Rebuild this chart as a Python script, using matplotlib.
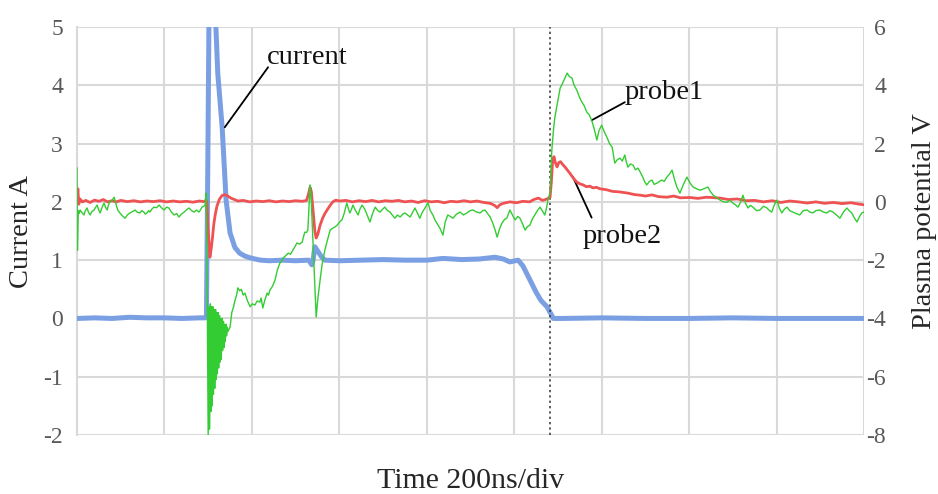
import numpy as np
import matplotlib
matplotlib.use("Agg")
import matplotlib.pyplot as plt

plt.rcParams['font.family'] = ['Liberation Serif', 'DejaVu Serif']
plt.rcParams['axes.unicode_minus'] = False

# time in ns (200 ns per division, 9 divisions)
div_ns = 200
n_div = 9

# current trace (A)
current_trace = [
    (0, 0.0), (40, 0.01), (80, 0.0), (120, 0.02), (160, 0.01), (200, 0.01),
    (240, 0.0), (280, 0.01), (293, 0.01), (296, 0.03), (299, 2.5), (302, 5.3),
    (316, 5.3), (322, 4.2), (332, 3.28), (341, 2.03), (350, 1.47), (361, 1.22),
    (372, 1.12), (384, 1.07), (396, 1.04), (407, 1.02), (420, 1.0), (440, 0.99),
    (470, 1.0), (500, 0.99), (530, 1.0), (537, 0.92), (540, 1.0), (544, 1.23),
    (551, 1.15), (560, 1.05), (567, 1.0), (600, 0.99), (650, 1.0), (700, 1.01),
    (750, 1.0), (800, 1.0), (837, 1.03), (880, 1.01), (920, 1.02), (956, 1.05),
    (975, 1.02), (990, 0.97), (1009, 1.0), (1020, 0.9), (1036, 0.66),
    (1050, 0.45), (1061, 0.31), (1075, 0.2), (1086, 0.05), (1089, 0.0),
    (1110, 0.0), (1200, 0.01), (1300, 0.0), (1400, 0.0), (1500, 0.01),
    (1600, 0.0), (1700, 0.0), (1800, 0.0),
]

# probe2 potential (V)
probe2_trace = [
    (0, 0.03), (2, 0.45), (4, -0.08), (7, 0.1), (12, 0.0), (20, 0.05), (30, -0.02),
    (40, 0.06), (50, 0.02), (60, 0.08), (70, 0.0), (80, 0.04), (90, 0.0), (100, 0.05),
    (115, 0.01), (130, 0.04), (145, 0.0), (160, 0.03), (175, 0.01), (190, 0.04),
    (205, 0.0), (220, 0.03), (235, 0.0), (250, 0.02), (265, -0.01), (280, 0.03),
    (290, 0.01), (295, 0.05), (297, 0.0), (300, -1.0), (304, -1.9), (307, -1.6),
    (310, -1.2), (313, -0.75), (316, -0.45), (320, -0.15), (326, 0.1), (332, 0.22),
    (338, 0.25), (345, 0.2), (352, 0.13), (360, 0.08), (368, 0.03), (380, 0.05),
    (395, 0.0), (410, 0.03), (425, 0.01), (440, 0.04), (455, 0.0), (470, 0.03),
    (485, 0.01), (500, 0.04), (515, 0.02), (525, 0.05), (530, 0.3), (533, 0.5),
    (536, 0.35), (540, -0.3), (544, -1.0), (547, -1.24), (551, -1.1), (556, -0.8),
    (562, -0.55), (567, -0.4), (572, -0.28), (579, -0.12), (585, 0.0), (592, 0.06),
    (600, 0.03), (615, 0.05), (630, 0.0), (645, 0.04), (660, 0.01), (675, 0.05),
    (690, 0.0), (705, 0.04), (720, 0.02), (735, 0.05), (750, 0.0), (765, 0.03),
    (780, -0.02), (795, 0.04), (810, 0.0), (825, 0.02), (840, -0.03), (855, 0.02),
    (870, 0.0), (885, 0.04), (900, 0.0), (915, 0.03), (930, -0.02), (945, -0.05),
    (955, -0.12), (961, -0.2), (967, -0.1), (975, -0.05), (990, 0.0), (1005, -0.03),
    (1020, 0.02), (1035, 0.0), (1045, 0.08), (1055, 0.13), (1065, 0.05), (1075, 0.1),
    (1082, 0.16), (1085, 0.7), (1088, 1.45), (1091, 1.55), (1094, 1.35), (1098, 1.2),
    (1102, 1.35), (1106, 1.38), (1111, 1.28), (1116, 1.2), (1121, 1.1), (1127, 0.99),
    (1135, 0.82), (1143, 0.68), (1150, 0.62), (1158, 0.58), (1165, 0.52), (1173, 0.54),
    (1180, 0.48), (1188, 0.5), (1196, 0.45), (1210, 0.42), (1225, 0.36), (1242, 0.34),
    (1260, 0.3), (1275, 0.25), (1288, 0.23), (1300, 0.2), (1315, 0.24), (1330, 0.18),
    (1349, 0.16), (1365, 0.2), (1380, 0.14), (1402, 0.15), (1420, 0.12), (1440, 0.16),
    (1471, 0.13), (1490, 0.08), (1510, 0.1), (1530, 0.04), (1550, 0.05), (1570, 0.0),
    (1590, 0.04), (1610, -0.02), (1630, 0.03), (1650, 0.0), (1670, -0.04), (1690, 0.0),
    (1710, -0.05), (1730, -0.02), (1750, -0.06), (1770, -0.03), (1790, -0.08),
    (1800, -0.1),
]

# probe1 potential (V)
probe1_trace = [
    (0, 1.16), (1, -1.66), (3, -0.3), (5, -0.4), (7, -0.28), (11, -0.36), (16, -0.45),
    (19, -0.3), (23, -0.21), (26, -0.35), (30, -0.45), (34, -0.33), (39, -0.28),
    (42, -0.2), (46, -0.11), (49, -0.25), (53, -0.38), (57, -0.2), (62, -0.04),
    (65, -0.18), (69, -0.28), (72, -0.1), (75, 0.0), (80, 0.05), (85, 0.16), (88, 0.0),
    (91, -0.18), (94, -0.3), (98, -0.38), (104, -0.48), (110, -0.56), (115, -0.45),
    (121, -0.38), (127, -0.33), (133, -0.28), (138, -0.36), (144, -0.38), (148, -0.3),
    (153, -0.35), (156, -0.42), (160, -0.38), (164, -0.3), (167, -0.35), (171, -0.25),
    (176, -0.18), (182, -0.2), (188, -0.11), (193, -0.2), (199, -0.28), (205, -0.18),
    (210, -0.21), (216, -0.35), (222, -0.45), (228, -0.4), (233, -0.52), (239, -0.42),
    (245, -0.35), (250, -0.28), (256, -0.21), (262, -0.3), (268, -0.35), (273, -0.28),
    (279, -0.35), (283, -0.25), (286, -0.18), (290, -0.15), (293, -0.11), (295, 0.3),
    (297, -1.5),
    (300, -8.0), (302, -3.6), (303, -7.8), (305, -3.5), (306, -7.2), (308, -3.6),
    (309, -7.0), (311, -3.6), (312, -6.6), (314, -3.7), (315, -6.4), (317, -3.7),
    (318, -6.1), (320, -3.8), (321, -5.9), (323, -3.8), (324, -5.7), (326, -3.9),
    (327, -5.5), (329, -4.0), (330, -5.4), (332, -4.0), (333, -5.1), (335, -4.1),
    (336, -5.0), (338, -4.2), (339, -4.8), (341, -4.2), (342, -4.6), (344, -4.3),
    (345, -4.45), (350, -4.3), (354, -3.8), (358, -3.6), (361, -3.4), (365, -3.2),
    (368, -2.95), (372, -3.05), (376, -3.0), (380, -3.2), (384, -3.13), (390, -3.4),
    (396, -3.6), (401, -3.5), (407, -3.54), (412, -3.4), (418, -3.44), (421, -3.3),
    (425, -3.64), (430, -3.35), (435, -3.13), (438, -3.2), (441, -3.03), (447, -2.9),
    (453, -2.68), (458, -2.35), (464, -2.1), (468, -2.05), (471, -1.93), (477, -1.85),
    (483, -1.76), (488, -1.8), (494, -1.65), (498, -1.55), (503, -1.41), (509, -1.45),
    (515, -1.38), (518, -1.2), (521, -1.04), (525, -1.05), (528, -0.97), (533, 0.58),
    (535, 0.3), (540, -1.5), (547, -3.95), (551, -3.3), (556, -2.68), (561, -2.1),
    (567, -1.65), (573, -1.3), (579, -0.97), (585, -0.9), (590, -0.86), (595, -0.8),
    (600, -0.7), (606, -0.62), (611, -0.4), (617, -0.04), (621, -0.25), (624, -0.38),
    (628, -0.25), (631, -0.11), (637, -0.3), (643, -0.45), (647, -0.25), (652, -0.11),
    (656, -0.2), (659, -0.28), (665, -0.5), (670, -0.69), (676, -0.4), (682, -0.18),
    (688, -0.3), (693, -0.35), (699, -0.25), (704, -0.18), (710, -0.3), (716, -0.35),
    (721, -0.45), (727, -0.56), (733, -0.45), (739, -0.52), (745, -0.42), (750, -0.38),
    (756, -0.45), (762, -0.52), (768, -0.35), (773, -0.21), (779, -0.4), (784, -0.56),
    (790, -0.35), (796, -0.21), (800, -0.1), (803, -0.04), (808, -0.3), (814, -0.45),
    (818, -0.6), (823, -0.73), (830, -0.9), (837, -1.14), (842, -0.7), (848, -0.45),
    (854, -0.5), (860, -0.56), (868, -0.42), (876, -0.35), (884, -0.45), (892, -0.38),
    (899, -0.3), (906, -0.28), (914, -0.35), (922, -0.38), (928, -0.3), (933, -0.28),
    (939, -0.4), (945, -0.52), (951, -0.73), (956, -0.95), (961, -1.21), (967, -0.9),
    (972, -0.73), (978, -0.6), (983, -0.56), (987, -0.4), (990, -0.28), (996, -0.45),
    (1002, -0.62), (1008, -0.5), (1013, -0.56), (1019, -0.75), (1025, -0.97),
    (1030, -0.85), (1036, -0.8), (1041, -0.6), (1047, -0.45), (1053, -0.3),
    (1059, -0.18), (1064, -0.3), (1070, -0.45), (1074, -0.2), (1077, 0.06), (1082, 0.3),
    (1086, 1.78), (1090, 2.5), (1093, 2.91), (1099, 3.4), (1105, 3.9), (1110, 4.05),
    (1116, 4.25), (1121, 4.42), (1126, 4.3), (1132, 4.25), (1137, 4.0), (1143, 3.84),
    (1149, 3.6), (1155, 3.42), (1160, 3.3), (1166, 3.08), (1171, 3.0), (1177, 2.81),
    (1183, 2.5), (1189, 2.12), (1194, 2.45), (1200, 2.63), (1206, 2.4), (1212, 2.22),
    (1218, 2.0), (1224, 1.88), (1227, 1.6), (1230, 1.33), (1236, 1.45), (1242, 1.5),
    (1247, 1.4), (1253, 1.61), (1256, 1.4), (1260, 1.19), (1266, 1.3), (1272, 1.26),
    (1277, 1.1), (1283, 1.16), (1289, 1.0), (1294, 0.85), (1298, 0.7), (1303, 0.58),
    (1309, 0.7), (1315, 0.75), (1320, 0.6), (1326, 0.64), (1332, 0.7), (1338, 0.75),
    (1343, 0.7), (1349, 0.85), (1355, 0.95), (1361, 1.09), (1366, 0.8), (1372, 0.51),
    (1379, 0.3), (1387, 0.6), (1395, 0.85), (1402, 0.65), (1409, 0.51), (1417, 0.45),
    (1425, 0.4), (1434, 0.45), (1443, 0.51), (1449, 0.35), (1455, 0.23), (1463, 0.15),
    (1471, 0.06), (1479, 0.0), (1487, -0.01), (1493, 0.05), (1500, -0.04),
    (1506, -0.1), (1512, -0.18), (1518, 0.0), (1523, 0.23), (1529, -0.05),
    (1535, -0.21), (1540, -0.12), (1546, -0.18), (1554, -0.3), (1562, -0.28),
    (1570, -0.15), (1578, -0.21), (1584, -0.3), (1589, -0.35), (1595, -0.1),
    (1601, 0.06), (1606, -0.2), (1612, -0.38), (1618, -0.25), (1624, -0.18),
    (1630, -0.3), (1637, -0.35), (1645, -0.4), (1653, -0.45), (1661, -0.3),
    (1670, -0.28), (1676, -0.35), (1683, -0.38), (1690, -0.3), (1699, -0.28),
    (1707, -0.35), (1715, -0.38), (1722, -0.3), (1729, -0.35), (1737, -0.45),
    (1745, -0.56), (1753, -0.35), (1761, -0.21), (1766, -0.3), (1772, -0.38),
    (1778, -0.55), (1784, -0.69), (1790, -0.5), (1795, -0.38), (1800, -0.35),
]

marker_time = 1082  # dotted vertical line

t_cur, cur = np.array(current_trace).T
t_p2, p2 = np.array(probe2_trace).T
t_p1, p1 = np.array(probe1_trace).T

grid_col = '#d9d9d9'
tick_col = '#595959'
lbl_col = '#262626'

fig = plt.figure(figsize=(9.38, 4.94), dpi=100)
ax = fig.add_axes([0.0821, 0.1194, 0.8390, 0.8259])
ax2 = ax.twinx()

ax.plot(t_cur, cur, color='#7b9fe3', lw=3.6, solid_capstyle='butt', zorder=3)
ax2.plot(t_p2, p2, color='#ee5252', lw=2.0, zorder=3)
ax2.plot(t_p1, p1, color='#33cc33', lw=1.0, zorder=4)
ax.axvline(marker_time, color='#333333', lw=1.1, ls=(0, (1.5, 2)), zorder=5)

ax.set_xlim(0, div_ns * n_div)
ax.set_ylim(-2, 5)
ax2.set_ylim(-8, 6)
ax.set_xticks(np.arange(0, div_ns * n_div + 1, div_ns))
ax.set_yticks(np.arange(-2, 6, 1))
ax2.set_yticks(np.arange(-8, 7, 2))
ax.set_xticklabels([])
ax.grid(True, color=grid_col, lw=1.5)
ax.set_axisbelow(True)

for a in (ax, ax2):
    for s in a.spines.values():
        s.set_visible(False)
ax.spines['left'].set_visible(True)
ax.spines['left'].set_color(grid_col)
ax.spines['left'].set_linewidth(1.5)

ax.tick_params(axis='both', length=0, labelsize=17, colors=tick_col, pad=10)
ax2.tick_params(axis='y', length=0, labelsize=17, colors=tick_col, pad=16)
for lbl in ax2.get_yticklabels():
    lbl.set_horizontalalignment('right')

ax.set_ylabel("Current A", fontsize=20.5, color=lbl_col)
ax.yaxis.set_label_coords(-0.07, 0.5)
ax.yaxis.label.set_va('center')
ax2.set_ylabel("Plasma potential V", fontsize=20.5, color=lbl_col)
ax2.yaxis.set_label_coords(1.077, 0.525)
ax2.yaxis.label.set_va('center')
ax.set_xlabel("Time 200ns/div", fontsize=21.5, color=lbl_col)
ax.xaxis.set_label_coords(0.5, -0.112)
ax.xaxis.label.set_va('center')

# callouts
line_kw = dict(arrowstyle='-', color='black', lw=1.3, shrinkA=0, shrinkB=0)
ax.annotate('', xy=(338, 3.28), xytext=(437, 4.31), arrowprops=line_kw)
ax.text(435, 4.48, "current", fontsize=20.5, va='center', ha='left', color='#111111')
ax.annotate('', xy=(1177, 3.40), xytext=(1253, 3.71), arrowprops=line_kw)
ax.text(1253, 3.87, "probe1", fontsize=20.5, va='center', ha='left', color='#111111')
ax.annotate('', xy=(1134, 2.43), xytext=(1177, 1.73), arrowprops=line_kw)
ax.text(1157, 1.40, "probe2", fontsize=20.5, va='center', ha='left', color='#111111')

fig.savefig("out.png", dpi=100)
